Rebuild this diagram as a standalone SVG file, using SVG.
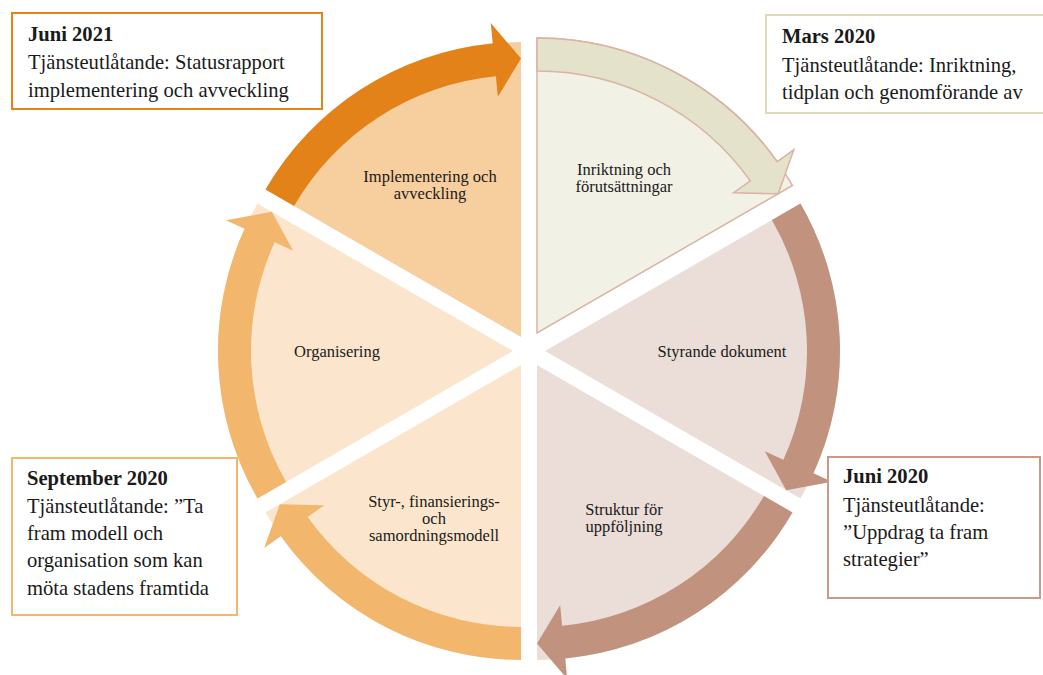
<svg xmlns="http://www.w3.org/2000/svg" width="1043" height="675" viewBox="0 0 1043 675">
<style>
.lbl{font-family:"Liberation Serif","Times New Roman",serif;font-size:16.5px;fill:#1a1a1a;text-anchor:middle}
.bt{font-family:"Liberation Serif","Times New Roman",serif;font-size:20.6px;fill:#1a1a1a}
.bt .h{font-weight:bold}
.box{fill:#ffffff;stroke-width:2}
</style>
<rect width="1043" height="675" fill="#ffffff"/>
<g id="seg-implementering">
<path d="M521 337.1 L265.52 189.6 A295 295 0 0 1 521 42.1 Z" fill="#F7CE9E"/>
<text class="lbl" x="430" y="182">Implementering och</text>
<text class="lbl" x="430" y="199">avveckling</text>
</g>
<g id="seg-inriktning">
<path d="M537 333 L537 38 A295 295 0 0 1 792.48 185.5 Z" fill="#F2F1E6" stroke="#D9B3A5" stroke-width="1.5"/>
<text class="lbl" x="624" y="175">Inriktning och</text>
<text class="lbl" x="624" y="192">förutsättningar</text>
</g>
<g id="seg-styrande">
<path d="M545 351 L800.48 203.5 A295 295 0 0 1 800.48 498.5 Z" fill="#EBDDD7"/>
<text class="lbl" x="722" y="357">Styrande dokument</text>
</g>
<g id="seg-struktur">
<path d="M537 364.9 L792.48 512.4 A295 295 0 0 1 537 659.9 Z" fill="#EBDDD7"/>
<text class="lbl" x="624" y="515">Struktur för</text>
<text class="lbl" x="624" y="532">uppföljning</text>
</g>
<g id="seg-styr">
<path d="M521 364.9 L521 659.9 A295 295 0 0 1 265.52 512.4 Z" fill="#FBE6CD"/>
<text class="lbl" x="434" y="507">Styr-, finansierings-</text>
<text class="lbl" x="434" y="524">och</text>
<text class="lbl" x="434" y="541">samordningsmodell</text>
</g>
<g id="seg-organisering">
<path d="M513 351 L257.52 498.5 A295 295 0 0 1 257.52 203.5 Z" fill="#FBE6CD"/>
<text class="lbl" x="337" y="357">Organisering</text>
</g>
<g id="connectors">
<path d="M265.52 189.6 A295 295 0 0 1 492.73 43.46 L490.76 23.05 L521 58.6 L497.85 96.71 L495.89 76.31 A262 262 0 0 0 294.1 206.1 Z" fill="#E4821A"/>
<path d="M537 38 A295 295 0 0 1 777.16 161.69 L793.85 149.79 L778.19 193.75 L733.61 192.76 L750.3 180.86 A262 262 0 0 0 537 71 Z" fill="#E4E2CA" stroke="#D9B3A5" stroke-width="1.5" stroke-linejoin="miter"/>
<path d="M800.48 203.5 A295 295 0 0 1 813.44 473.33 L832.09 481.84 L786.19 490.25 L764.76 451.15 L783.41 459.65 A262 262 0 0 0 771.9 220 Z" fill="#C1937E"/>
<path d="M792.48 512.4 A295 295 0 0 1 565.27 658.54 L567.24 678.95 L537 643.4 L560.15 605.29 L562.11 625.69 A262 262 0 0 0 763.9 495.9 Z" fill="#C1937E"/>
<path d="M521 659.9 A295 295 0 0 1 280.84 536.21 L264.15 548.11 L279.81 504.15 L324.39 505.14 L307.7 517.04 A262 262 0 0 0 521 626.9 Z" fill="#F2B66D"/>
<path d="M257.52 498.5 A295 295 0 0 1 244.56 228.67 L225.91 220.16 L271.81 211.75 L293.24 250.85 L274.59 242.35 A262 262 0 0 0 286.1 482 Z" fill="#F2B66D"/>
</g>
<g id="box-juni2021">
<rect class="box" x="12" y="13" width="310" height="96" stroke="#E58315"/>
<text class="bt" x="28" y="41"><tspan class="h">Juni 2021</tspan></text>
<text class="bt" x="28" y="69">Tjänsteutlåtande: Statusrapport</text>
<text class="bt" x="28" y="97">implementering och avveckling</text>
</g>
<g id="box-mars2020">
<rect class="box" x="766" y="15" width="290" height="98" stroke="#DEDBB8" stroke-width="2.5"/>
<text class="bt" x="782" y="43"><tspan class="h">Mars 2020</tspan></text>
<text class="bt" x="782" y="72">Tjänsteutlåtande: Inriktning,</text>
<text class="bt" x="782" y="99">tidplan och genomförande av</text>
</g>
<g id="box-sept2020">
<rect class="box" x="12" y="458" width="225" height="157" stroke="#F2B66D"/>
<text class="bt" x="27" y="485"><tspan class="h">September 2020</tspan></text>
<text class="bt" x="27" y="513">Tjänsteutlåtande: ”Ta</text>
<text class="bt" x="27" y="540">fram modell och</text>
<text class="bt" x="27" y="567">organisation som kan</text>
<text class="bt" x="27" y="595">möta stadens framtida</text>
</g>
<g id="box-juni2020">
<rect class="box" x="828" y="457" width="212" height="141" stroke="#C99B86"/>
<text class="bt" x="843" y="483"><tspan class="h">Juni 2020</tspan></text>
<text class="bt" x="843" y="512">Tjänsteutlåtande:</text>
<text class="bt" x="843" y="539">”Uppdrag ta fram</text>
<text class="bt" x="843" y="566">strategier”</text>
</g>
</svg>
